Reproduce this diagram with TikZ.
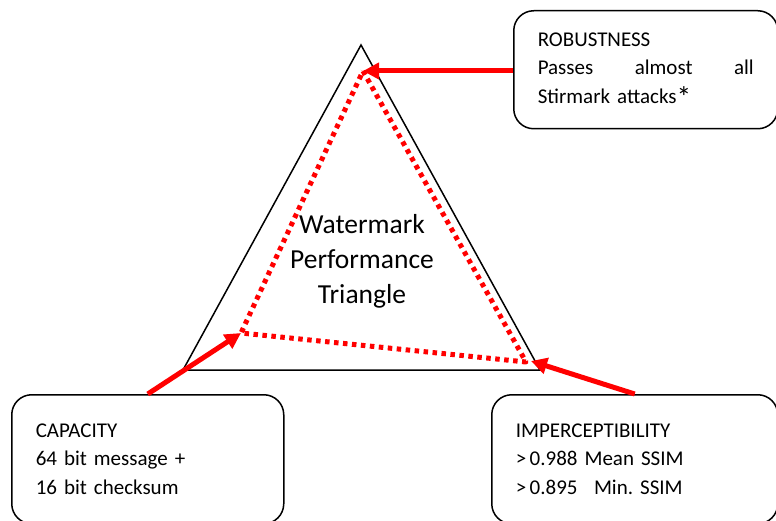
\documentclass[tikz,border=0pt]{standalone}
\usepackage{fontspec}
\setmainfont{Carlito}
\usetikzlibrary{arrows.meta}

\newcommand\boxfont{\fontsize{21}{28.5}\selectfont\frenchspacing
    \spaceskip=0.16em plus 0.1em\relax}

\tikzset{
    infobox/.style={draw, line width=1.5pt, rounded corners=20pt, anchor=north west,
        align=left, inner xsep=24pt, inner ysep=0pt, font=\boxfont},
    redarrow/.style={draw=red, line width=5pt, -{Triangle[length=16pt, width=16pt]}},
    reddots/.style={draw=red, line width=5pt, dash pattern=on 4.5pt off 4.5pt, line join=round}
}

\begin{document}
\begin{tikzpicture}[x=1pt, y=-1pt]
    \useasboundingbox (0, 0) rectangle (776, 521);
    \clip (0, 0) rectangle (776, 521);

    % draw outer triangle
    \coordinate (apex) at (361, 45);
    \coordinate (left) at (183, 370);
    \coordinate (right) at (540, 370);
    \draw[line width=1.5pt] (apex) -- (right) -- (left) -- cycle;

    % draw dotted performance triangle
    \coordinate (dtop) at (363, 71);
    \coordinate (dleft) at (241, 333);
    \coordinate (dright) at (526, 362);
    \draw[reddots] (dtop) -- (dright) -- (dleft) -- cycle;

    % title in the middle
    \node[align=center, font=\fontsize{27.5}{35}\selectfont] (title) at (362, 261)
        {Watermark\\Performance\\Triangle};

    % draw the three boxes
    \node[infobox, text width=216pt, minimum height=118pt] (robust) at (513, 10)
        {ROBUSTNESS\\Passes\hfill almost\hfill all\\Stirmark attacks\raisebox{-0.4ex}{\scalebox{1.4}{*}}};
    \node[infobox, text width=224pt, minimum height=129pt] (capacity) at (11, 394)
        {CAPACITY\\64 bit message +\\16 bit checksum};
    \node[infobox, text width=238pt, minimum height=129pt] (imperc) at (491, 394)
        {IMPERCEPTIBILITY\\>\,0.988 Mean SSIM\\>\,0.895\hspace{0.45em} Min. SSIM};

    % draw arrows
    \draw[redarrow] (robust.west |- dtop) -- (dtop);
    \draw[redarrow] (capacity.north) -- (dleft);
    \draw[redarrow] (imperc.north) -- ([xshift=5pt, yshift=1pt]dright);

\end{tikzpicture}
\end{document}
